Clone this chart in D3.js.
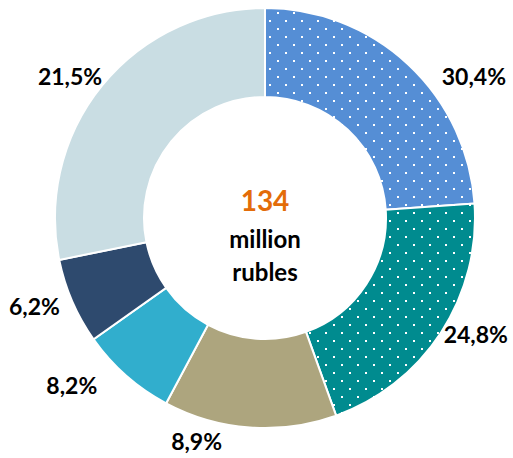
<!DOCTYPE html>
<html>
<head>
<meta charset="utf-8">
<script src="https://cdnjs.cloudflare.com/ajax/libs/d3/7.8.5/d3.min.js"></script>
<style>
  body { margin: 0; background: #fff; }
  text { font-family: Lato, "Open Sans", sans-serif; font-weight: bold; }
</style>
</head>
<body>
<div id="chart"></div>
<script>
// slice sizes as drawn (clockwise from 12 o'clock), and the printed labels
var shares = [23.9, 20.6, 13.3, 7.4, 6.6, 28.2];
var labels = ["30,4%", "24,8%", "8,9%", "8,2%", "6,2%", "21,5%"];
var colors = ["#558ed5", "#008b8f", "#ada57e", "#31aecd", "#2e4a6e", "#c9dde3"];
var dotted = [true, true, false, false, false, false];
var total = "134";
var unitLines = ["million", "rubles"];

// label placement: angle (deg, clockwise from top) and distance from centre
var labelAngle = [56, 119, 197, 229, 249, 306];
var labelDist = [252, 241, 234, 256, 247, 241];

var width = 513, height = 458;
var cx = 265, cy = 218, outerR = 210, innerR = 121;

var svg = d3.select("#chart").append("svg")
    .attr("width", width)
    .attr("height", height);

var defs = svg.append("defs");
shares.forEach(function(s, i) {
  if (!dotted[i]) return;
  var p = defs.append("pattern")
      .attr("id", "dots" + i)
      .attr("patternUnits", "userSpaceOnUse")
      .attr("x", 4).attr("y", 10)
      .attr("width", 16).attr("height", 16);
  p.append("rect").attr("width", 16).attr("height", 16).attr("fill", colors[i]);
  p.append("rect").attr("x", 0).attr("y", 0).attr("width", 2).attr("height", 2).attr("fill", "#fff");
  p.append("rect").attr("x", 8).attr("y", 8).attr("width", 2).attr("height", 2).attr("fill", "#fff");
});

var g = svg.append("g").attr("transform", "translate(" + cx + "," + cy + ")");

var pie = d3.pie().sort(null).value(function(d) { return d; });
var arc = d3.arc().innerRadius(innerR).outerRadius(outerR);

g.selectAll("path.slice")
    .data(pie(shares))
    .enter().append("path")
    .attr("class", "slice")
    .attr("d", arc)
    .attr("fill", function(d, i) { return dotted[i] ? "url(#dots" + i + ")" : colors[i]; })
    .attr("stroke", "#fff")
    .attr("stroke-width", 2);

// outside labels
g.selectAll("text.lbl")
    .data(labels)
    .enter().append("text")
    .attr("class", "lbl")
    .attr("x", function(d, i) { return labelDist[i] * Math.sin(labelAngle[i] * Math.PI / 180); })
    .attr("y", function(d, i) { return -labelDist[i] * Math.cos(labelAngle[i] * Math.PI / 180); })
    .attr("dy", "0.36em")
    .attr("text-anchor", "middle")
    .style("font-size", "23px")
    .attr("fill", "#000")
    .text(function(d) { return d; });

// centre text
g.append("text")
    .attr("y", -7)
    .attr("text-anchor", "middle")
    .style("font-size", "28px")
    .attr("fill", "#e36c09")
    .text(total);

g.selectAll("text.unit")
    .data(unitLines)
    .enter().append("text")
    .attr("class", "unit")
    .attr("y", function(d, i) { return 30 + i * 33; })
    .attr("text-anchor", "middle")
    .style("font-size", "24px")
    .attr("fill", "#000")
    .text(function(d) { return d; });
</script>
</body>
</html>
